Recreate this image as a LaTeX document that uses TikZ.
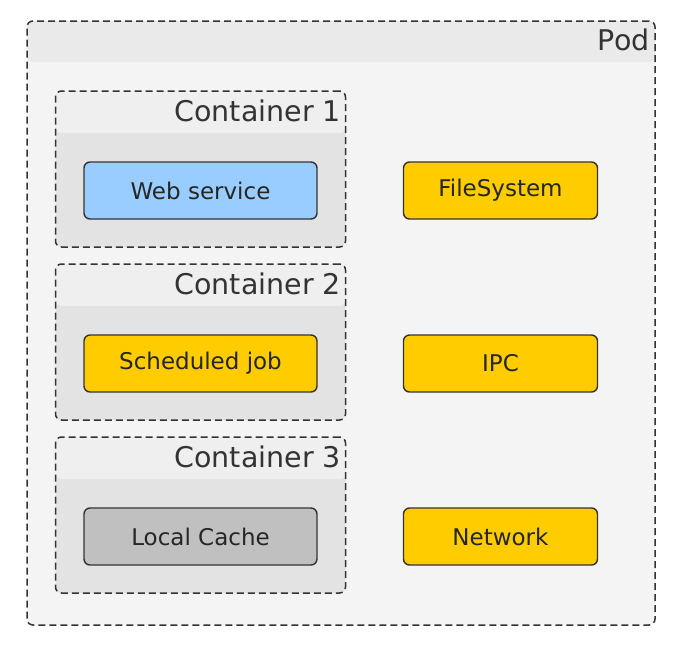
\documentclass[tikz,border=0pt]{standalone}
\usepackage{fontspec}
\setmainfont{DejaVu Sans}
\usetikzlibrary{positioning}

\definecolor{podbody}{HTML}{F4F4F4}
\definecolor{podhead}{HTML}{EAEAEA}
\definecolor{boxbody}{HTML}{E3E3E3}
\definecolor{boxhead}{HTML}{EFEFEF}
\definecolor{websvc}{HTML}{99CCFF}
\definecolor{shared}{HTML}{FFCC00}
\definecolor{cachegray}{HTML}{C0C0C0}
\definecolor{edge}{HTML}{333333}

\begin{document}
\begin{tikzpicture}[%
    x=1pt, y=-1pt,                 % Work in image pixels, top-down
    node distance=173pt and 300pt, % Row pitch and column pitch
    ]
% -------------------------------------------------
% Box styles
\tikzset{
  base/.style={draw=edge, rounded corners=6pt, inner sep=0pt, text=black!85},
  group/.style={base, dashed, dash pattern=on 7pt off 4pt, line width=1.5pt},
  pod/.style={group, fill=podbody, minimum width=628pt, minimum height=604pt,
    path picture={\fill[podhead] (path picture bounding box.north west)
      rectangle ([yshift=-41pt]path picture bounding box.north east);}},
  cont/.style={group, on grid, fill=boxbody, minimum width=290pt, minimum height=156pt,
    path picture={\fill[boxhead] (path picture bounding box.north west)
      rectangle ([yshift=-42pt]path picture bounding box.north east);}},
  part/.style={base, on grid, line width=1.4pt, minimum height=57pt,
    font=\fontsize{23pt}{26pt}\selectfont},
  proc/.style={part, minimum width=233pt},
  res/.style={part, minimum width=194pt, fill=shared},
  tag/.style={inner sep=0pt, anchor=base east, text=black!80,
    font=\fontsize{28.5pt}{32pt}\selectfont}
}
\useasboundingbox (0,0) rectangle (683,646);
% -------------------------------------------------
% The pod and its title
\node [pod] (pod) at (341,323) {};
\node [tag] (podname) at ([xshift=-6pt,yshift=-30pt]pod.north east) {Pod};

% Containers down the left side
\node [cont] (c1) at (200.5,169) {};
\node [cont, below=of c1] (c2) {};
\node [cont, below=of c2] (c3) {};
\foreach \n in {1,2,3}
  \node [tag] (c\n name) at ([xshift=-5pt,yshift=-31pt]c\n.north east) {Container \n};

% One process in each container
\node [proc, fill=websvc] (web) at ([yshift=-21.5pt]c1.center) {Web service};
\node [proc, fill=shared, below=of web] (job) {Scheduled job};
\node [proc, fill=cachegray, below=of job] (cache) {Local Cache};

% Shared resources of the pod
\node [res, right=of web] (fs) {FileSystem};
\node [res, right=of job] (ipc) {IPC};
\node [res, right=of cache] (net) {Network};

% -------------------------------------------------
\end{tikzpicture}
\end{document}
